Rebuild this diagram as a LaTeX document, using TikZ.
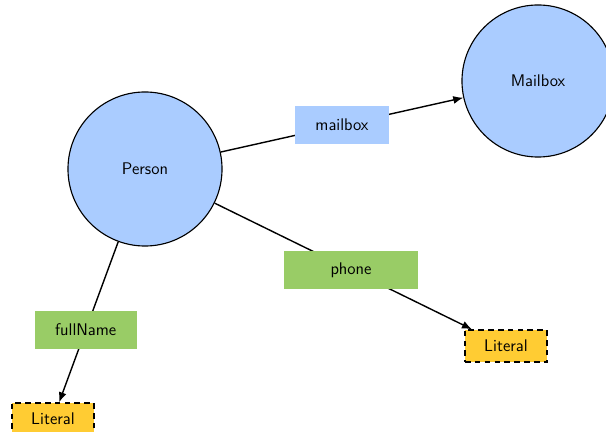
\documentclass[tikz,border=0pt]{standalone}
\usepackage{tikz}
\usetikzlibrary{arrows,arrows.meta}

\definecolor{classblue}{HTML}{AACCFF}
\definecolor{propgreen}{HTML}{99CC66}
\definecolor{lityellow}{HTML}{FFCC33}

\tikzset{
  class/.style={circle, draw=black, line width=0.8pt, fill=classblue, inner sep=0pt},
  prop/.style={rectangle, fill=propgreen, minimum height=0.95cm, inner sep=0pt},
  objprop/.style={rectangle, fill=classblue, minimum height=0.95cm, inner sep=0pt},
  literal/.style={rectangle, draw=black, line width=1pt, dash pattern=on 4pt off 3pt,
    fill=lityellow, minimum width=2.05cm, minimum height=0.8cm, inner sep=0pt}
}

\begin{document}
\begin{tikzpicture}[x=0.025cm, y=-0.025cm, font=\sffamily\large]
  \useasboundingbox (0,0) rectangle (606,432);
  \node[class, minimum size=3.85cm] (person) at (145,169) {Person};
  \node[class, minimum size=3.8cm] (mailbox) at (538,81) {Mailbox};
  \node[literal] (lit1) at (506,346) {Literal};
  \node[literal] (lit2) at (53,419) {Literal};
  \path[-{Latex[length=2.5mm,width=2mm]}, line width=1pt]
  (person) edge node [objprop, minimum width=2.35cm] {mailbox} (mailbox)
  (person) edge node [prop, minimum width=3.35cm, pos=0.53] {phone} (lit1)
  (person) edge node [prop, minimum width=2.55cm, pos=0.55] {fullName} (lit2);
\end{tikzpicture}
\end{document}
